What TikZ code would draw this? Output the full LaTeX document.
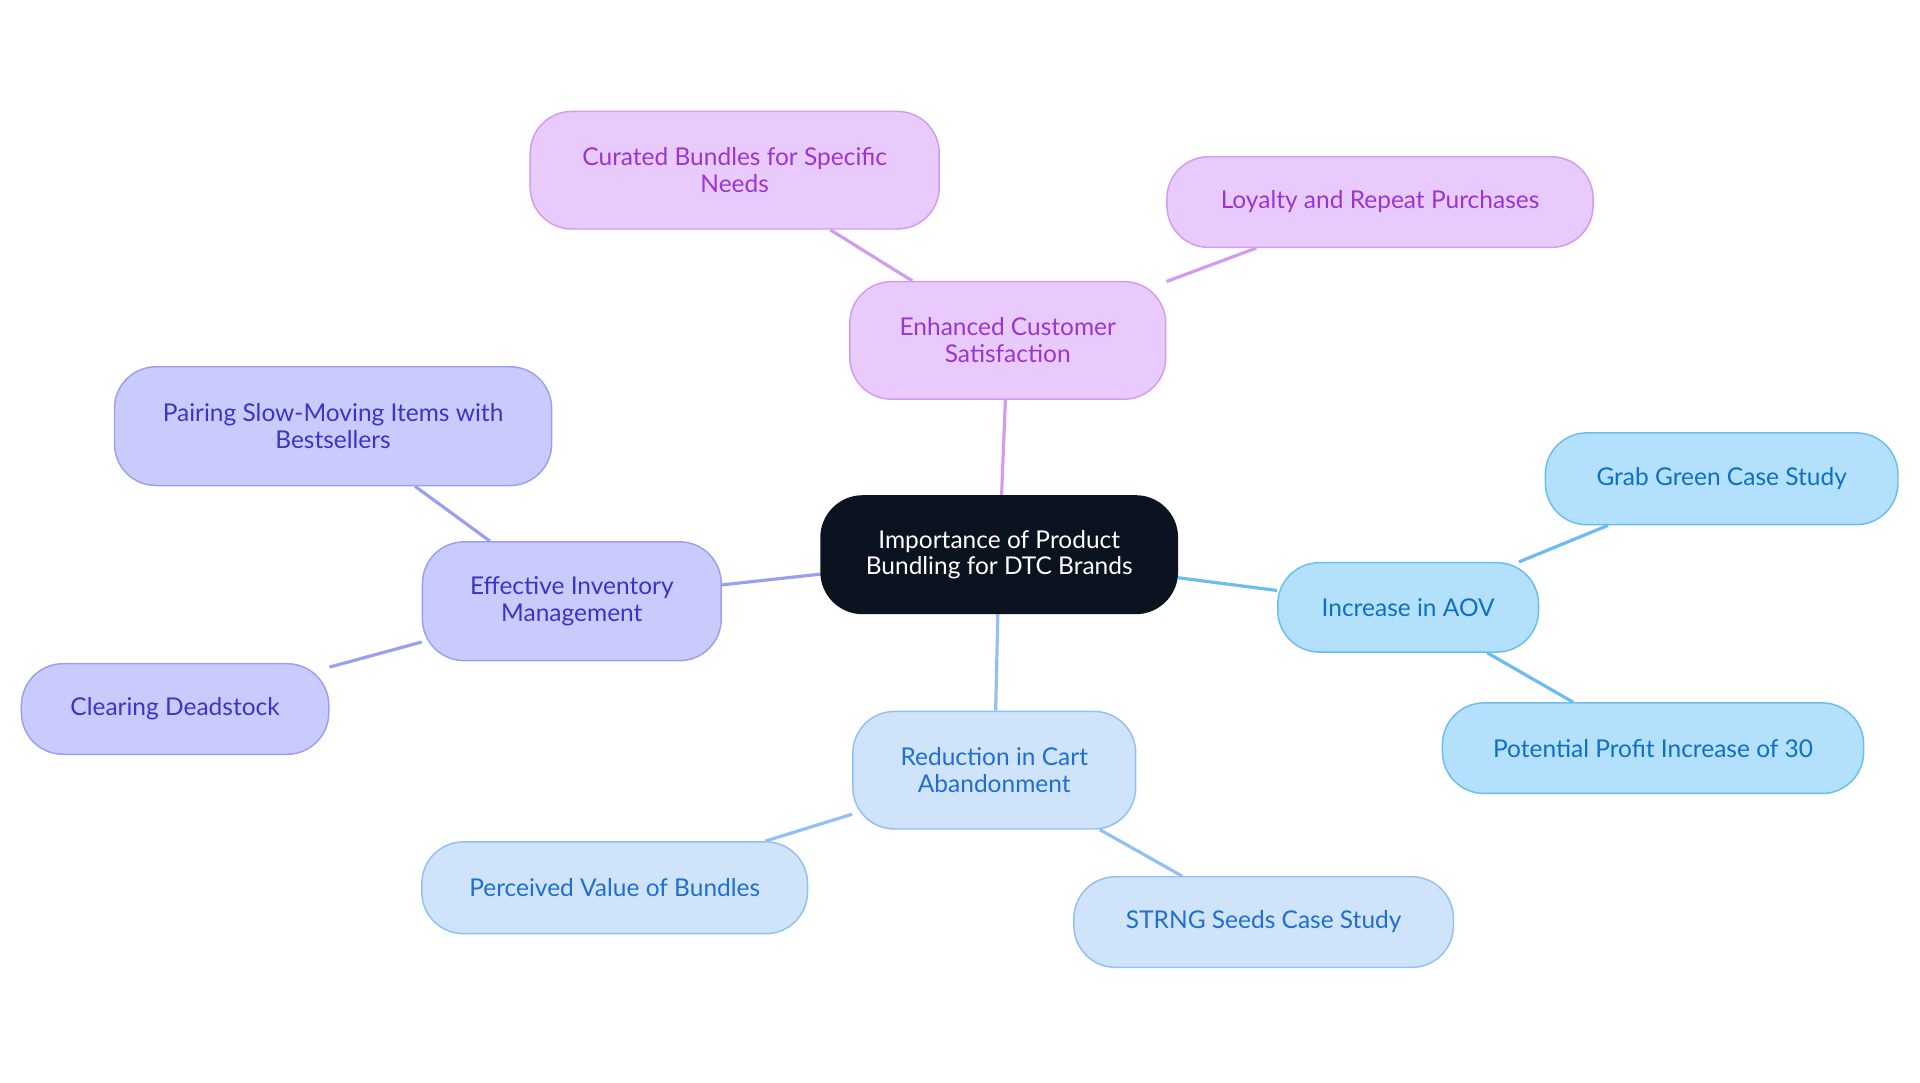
\documentclass[tikz,border=0pt]{standalone}
\usepackage{fontspec}
\setmainfont{Lato}
\usetikzlibrary{backgrounds}
\definecolor{cdark}{HTML}{0B1320}
\definecolor{bfill}{HTML}{B3E0FD}\definecolor{bdraw}{HTML}{6BBDF0}\definecolor{btext}{HTML}{0F6FC0}
\definecolor{lfill}{HTML}{CFE3FB}\definecolor{ldraw}{HTML}{93C0F2}\definecolor{ltext}{HTML}{1F6FD0}
\definecolor{ifill}{HTML}{C9CBFD}\definecolor{idraw}{HTML}{9B9FF0}\definecolor{itext}{HTML}{3A35C8}
\definecolor{pfill}{HTML}{E8CBFC}\definecolor{pdraw}{HTML}{D39BF0}\definecolor{ptext}{HTML}{9B35D0}
\begin{document}
\begin{tikzpicture}[x=0.5pt,y=-0.5pt,
  box/.style={rounded corners=17pt,draw,line width=0.6pt,align=center,font=\fontsize{10}{11}\selectfont,inner sep=0pt},
  blue/.style={box,fill=bfill,draw=bdraw,text=btext},
  light/.style={box,fill=lfill,draw=ldraw,text=ltext},
  indigo/.style={box,fill=ifill,draw=idraw,text=itext},
  purple/.style={box,fill=pfill,draw=pdraw,text=ptext},
  edge/.style={line width=1.3pt}]
\useasboundingbox (0,0) rectangle (1568,884);
\node[box,fill=cdark,draw=cdark,text=white,minimum width=145.5pt,minimum height=48pt] (c) at (816,453) {Importance of Product\\Bundling for DTC Brands};
\node[blue,minimum width=106.5pt,minimum height=36.5pt] (aov) at (1150,496) {Increase in AOV};
\node[blue,minimum width=144pt,minimum height=37.5pt] (gg) at (1406,391) {Grab Green Case Study};
\node[blue,minimum width=172pt,minimum height=37pt] (pp) at (1350,611) {Potential Profit Increase of 30};
\node[light,minimum width=115.5pt,minimum height=48pt] (cart) at (812,629) {Reduction in Cart\\Abandonment};
\node[light,minimum width=157.5pt,minimum height=37.5pt] (pv) at (502,725) {Perceived Value of Bundles};
\node[light,minimum width=155pt,minimum height=37pt] (st) at (1032,753) {STRNG Seeds Case Study};
\node[indigo,minimum width=122pt,minimum height=48.5pt] (inv) at (467,491) {Effective Inventory\\Management};
\node[indigo,minimum width=178.5pt,minimum height=48.5pt] (pair) at (272,348) {Pairing Slow-Moving Items with\\Bestsellers};
\node[indigo,minimum width=125.5pt,minimum height=37pt] (dead) at (143,579) {Clearing Deadstock};
\node[purple,minimum width=129pt,minimum height=48pt] (sat) at (823,278) {Enhanced Customer\\Satisfaction};
\node[purple,minimum width=167pt,minimum height=48pt] (cur) at (600,139) {Curated Bundles for Specific\\Needs};
\node[purple,minimum width=174pt,minimum height=37pt] (loy) at (1127,165) {Loyalty and Repeat Purchases};
\begin{scope}[on background layer]
\draw[edge,bdraw] (c) -- (aov); \draw[edge,bdraw] (aov) -- (gg); \draw[edge,bdraw] (aov) -- (pp);
\draw[edge,ldraw] (c) -- (cart); \draw[edge,ldraw] (cart) -- (pv); \draw[edge,ldraw] (cart) -- (st);
\draw[edge,idraw] (c) -- (inv); \draw[edge,idraw] (inv) -- (pair); \draw[edge,idraw] (inv) -- (dead);
\draw[edge,pdraw] (c) -- (sat); \draw[edge,pdraw] (sat) -- (cur); \draw[edge,pdraw] (sat) -- (loy);
\end{scope}
\end{tikzpicture}
\end{document}
